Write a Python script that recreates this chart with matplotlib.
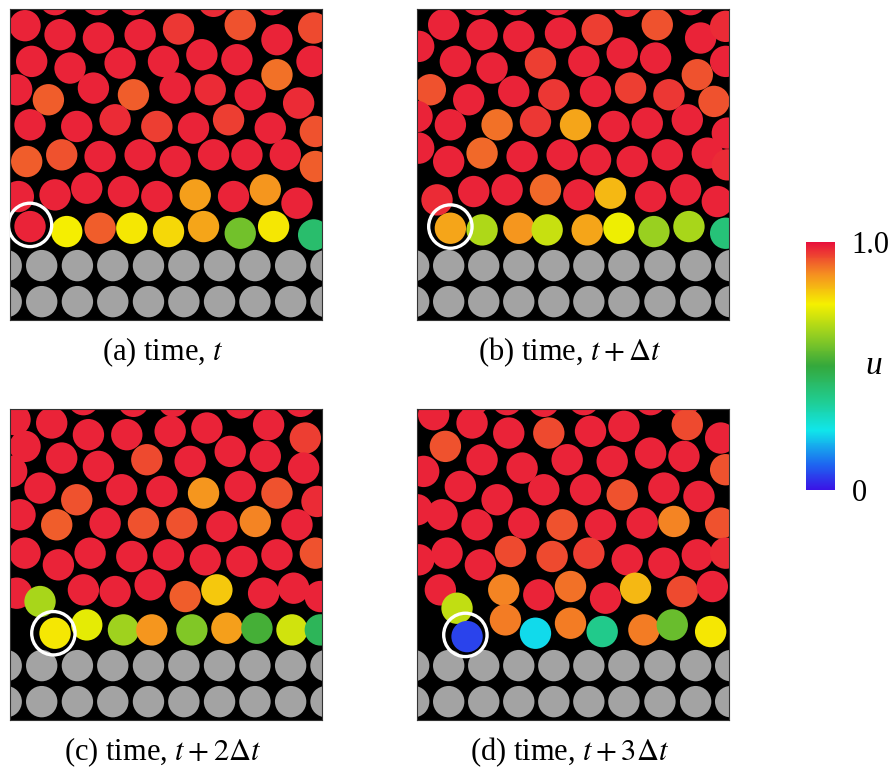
import matplotlib
matplotlib.use("Agg")
import matplotlib.pyplot as plt
from matplotlib.patches import Circle
from matplotlib.collections import PatchCollection
from matplotlib.colors import LinearSegmentedColormap, Normalize
import matplotlib.cm as cm

plt.rcParams['font.family'] = ['Liberation Serif', 'DejaVu Serif']
plt.rcParams['mathtext.fontset'] = 'stix'

# ---------------- data (panel pixel units, y downward) ----------------
labels = [r"(a) time, $t$", r"(b) time, $t + \Delta t$",
          r"(c) time, $t + 2\Delta t$", r"(d) time, $t + 3\Delta t$"]

# panel (a)
a_x = [165, 290, 400, 640, 815,
       75, 180, 295, 420, 535, 720, 940, 830,
       95, 210, 360, 490, 605, 710, 830, 935,
       50, 145, 280, 400, 525, 630, 750, 895,
       90, 230, 345, 470, 580, 685, 810, 945,
       80, 185, 300, 420, 525, 640, 740, 855, 945,
       55, 165, 260, 370, 470, 585, 700, 795, 890,
       90, 200, 300, 395, 505, 610, 720, 820, 940]
a_y = [0, 0, 0, 5, 0,
       78, 105, 115, 105, 88, 75, 85, 120,
       185, 205, 190, 185, 165, 180, 225, 185,
       270, 300, 265, 285, 265, 270, 285, 310,
       375, 380, 360, 380, 385, 360, 385, 395,
       485, 465, 470, 465, 485, 465, 465, 465, 500,
       590, 585, 565, 575, 590, 585, 590, 570, 610,
       680, 695, 685, 685, 695, 680, 700, 680, 705]
a_u = [0.98, 0.98, 0.98, 0.97, 0.98,
       0.98, 0.98, 0.98, 0.98, 0.96, 0.93, 0.94, 0.98,
       0.98, 0.98, 0.98, 0.98, 0.98, 0.98, 0.90, 0.98,
       0.98, 0.92, 0.98, 0.92, 0.98, 0.97, 0.98, 0.97,
       0.98, 0.98, 0.97, 0.95, 0.98, 0.95, 0.98, 0.93,
       0.92, 0.93, 0.98, 0.98, 0.98, 0.98, 0.98, 0.98, 0.92,
       0.98, 0.98, 0.98, 0.98, 0.98, 0.85, 0.98, 0.86, 0.98,
       0.98, 0.75, 0.92, 0.76, 0.78, 0.84, 0.58, 0.76, 0.42]

# panel (b)
b_x = [200, 315, 440, 650, 840,
       100, 215, 325, 450, 560, 740, 870, 945, 25,
       135, 245, 390, 520, 635, 735, 860, 945,
       60, 175, 310, 430, 555, 660, 775, 910,
       20, 120, 260, 375, 495, 610, 710, 830, 950,
       25, 115, 215, 335, 455, 555, 665, 770, 890, 950,
       80, 190, 290, 405, 505, 600, 720, 825, 920,
       120, 215, 325, 410, 530, 625, 730, 835, 945]
b_y = [0, 0, 0, 5, 0,
       75, 105, 110, 100, 90, 75, 115, 80, 140,
       185, 205, 190, 185, 160, 175, 225, 185,
       270, 300, 275, 285, 275, 265, 285, 305,
       350, 375, 375, 365, 375, 380, 370, 360, 400,
       445, 485, 460, 470, 465, 480, 485, 465, 460, 495,
       600, 575, 570, 570, 585, 580, 590, 570, 605,
       685, 690, 685, 690, 690, 685, 695, 680, 700]
b_u = [0.98, 0.98, 0.98, 0.97, 0.98,
       0.98, 0.98, 0.98, 0.98, 0.95, 0.93, 0.98, 0.97, 0.98,
       0.98, 0.98, 0.95, 0.98, 0.98, 0.98, 0.93, 0.98,
       0.93, 0.98, 0.98, 0.96, 0.98, 0.95, 0.96, 0.93,
       0.98, 0.98, 0.90, 0.96, 0.84, 0.98, 0.98, 0.98, 0.98,
       0.98, 0.98, 0.91, 0.98, 0.98, 0.98, 0.98, 0.98, 0.98, 0.97,
       0.97, 0.98, 0.98, 0.91, 0.98, 0.82, 0.98, 0.98, 0.98,
       0.84, 0.66, 0.86, 0.69, 0.84, 0.74, 0.63, 0.65, 0.40]

# panel (c)
c_x = [250, 400, 520, 720, 900,
       45, 155, 265, 380, 510, 620, 805, 915,
       75, 185, 295, 440, 570, 690, 795, 910, 35,
       120, 230, 365, 485, 610, 720, 830, 950,
       60, 170, 315, 430, 545, 665, 765, 890,
       75, 175, 270, 395, 505, 615, 725, 830, 945,
       50, 120, 250, 345, 450, 555, 650, 790, 880, 960,
       165, 260, 370, 455, 575, 680, 770, 875, 960]
c_y = [0, 5, 5, 10, 5,
       60, 70, 105, 105, 95, 85, 75, 115,
       140, 175, 200, 180, 185, 155, 170, 205, 215,
       265, 300, 270, 275, 280, 260, 280, 305,
       345, 375, 370, 370, 370, 380, 365, 375,
       460, 495, 460, 470, 465, 480, 485, 465, 460,
       580, 605, 570, 575, 555, 590, 570, 580, 565, 590,
       700, 675, 690, 690, 690, 685, 685, 690, 690]
c_u = [0.98, 0.98, 0.98, 0.98, 0.98,
       0.98, 0.98, 0.98, 0.98, 0.98, 0.98, 0.98, 0.95,
       0.98, 0.98, 0.98, 0.94, 0.98, 0.98, 0.98, 0.98, 0.98,
       0.98, 0.93, 0.98, 0.98, 0.86, 0.98, 0.93, 0.97,
       0.98, 0.92, 0.98, 0.93, 0.93, 0.98, 0.88, 0.98,
       0.98, 0.98, 0.98, 0.98, 0.98, 0.98, 0.98, 0.98, 0.93,
       0.98, 0.65, 0.98, 0.98, 0.98, 0.92, 0.80, 0.98, 0.98, 0.98,
       0.76, 0.73, 0.64, 0.86, 0.60, 0.85, 0.52, 0.70, 0.45]

# panel (d)
d_x = [190, 290, 400, 520, 720, 820,
       70, 185, 295, 415, 540, 640, 830, 930,
       105, 40, 215, 335, 470, 605, 720, 820, 945,
       150, 260, 400, 525, 635, 760, 865, 20,
       95, 200, 340, 455, 570, 695, 790, 930,
       25, 110, 210, 300, 425, 535, 650, 760, 860, 945,
       90, 280, 385, 480, 585, 675, 815, 905,
       140, 285, 375, 480, 575, 700, 785, 900, 170]
d_y = [0, 0, 5, 0, 0, 5,
       45, 70, 100, 100, 95, 80, 75, 115,
       140, 215, 180, 205, 180, 185, 160, 170, 210,
       260, 300, 270, 270, 285, 265, 290, 330,
       345, 375, 370, 375, 375, 370, 365, 370,
       480, 460, 495, 455, 470, 460, 480, 490, 465, 460,
       570, 570, 585, 560, 595, 565, 575, 560,
       625, 660, 700, 670, 695, 690, 675, 695, 710]
d_u = [0.98, 0.98, 0.98, 0.98, 0.98, 0.98,
       0.98, 0.98, 0.98, 0.94, 0.98, 0.98, 0.94, 0.98,
       0.93, 0.98, 0.98, 0.98, 0.98, 0.98, 0.98, 0.98, 0.93,
       0.98, 0.98, 0.98, 0.98, 0.93, 0.98, 0.98, 0.98,
       0.98, 0.98, 0.98, 0.93, 0.98, 0.98, 0.88, 0.93,
       0.98, 0.98, 0.98, 0.94, 0.94, 0.95, 0.98, 0.98, 0.98, 0.97,
       0.98, 0.88, 0.98, 0.90, 0.98, 0.82, 0.94, 0.98,
       0.68, 0.89, 0.23, 0.89, 0.37, 0.89, 0.57, 0.76, 0.06]

# fixed wall particles (grey), two rows
wall_x_ac = [18.6, 125, 232, 338, 445, 551, 658, 764, 871, 977]
wall_x_bd = [10, 115, 220, 325, 430, 535, 640, 748, 855, 960]
wall_rows_y = [797, 905]

# highlighted particle (white ring) per panel
ring_x = [90, 120, 160, 165]
ring_y = [675, 680, 700, 705]

panel_x0 = [30, 20, 30, 20]
panel_y0 = [28, 28, 28, 28]
panel_w, panel_h = 935, 932
radius = 47
ring_r = 65

# ---------------- colormap ----------------
cmap = LinearSegmentedColormap.from_list("u_map", [
    (0.00, "#3a14e6"), (0.10, "#1e64f0"), (0.24, "#10e6ea"),
    (0.36, "#20cc90"), (0.50, "#34a83c"), (0.63, "#98d020"),
    (0.75, "#f5f000"), (0.87, "#f59020"), (1.00, "#e8103c")])
norm = Normalize(0, 1)

fig = plt.figure(figsize=(8.9, 7.69), dpi=100)
fig.patch.set_facecolor("white")

W, H = 890, 769
boxes = [(10, 9), (417, 9), (10, 409), (417, 409)]
pw, ph = 312, 311

panels = [(a_x, a_y, a_u), (b_x, b_y, b_u), (c_x, c_y, c_u), (d_x, d_y, d_u)]
walls = [wall_x_ac, wall_x_bd, wall_x_ac, wall_x_bd]

for i, (px, py, pu) in enumerate(panels):
    lx, ty = boxes[i]
    ax = fig.add_axes([lx / W, 1 - (ty + ph) / H, pw / W, ph / H])
    ax.set_facecolor("black")
    x0, y0 = panel_x0[i], panel_y0[i]
    ax.set_xlim(x0, x0 + panel_w)
    ax.set_ylim(y0 + panel_h, y0)
    ax.set_xticks([])
    ax.set_yticks([])
    for s in ax.spines.values():
        s.set_color("#333333")
        s.set_linewidth(0.8)

    # wall particles
    wall = [Circle((wx, wy), radius) for wy in wall_rows_y for wx in walls[i]]
    ax.add_collection(PatchCollection(wall, facecolor="#a3a3a3",
                                      edgecolor="none"))
    # free particles coloured by u
    circ = [Circle((x, y), radius) for x, y in zip(px, py)]
    pc = PatchCollection(circ, cmap=cmap, norm=norm, edgecolor="none")
    pc.set_array(pu)
    ax.add_collection(pc)
    # ring
    ax.add_patch(Circle((ring_x[i], ring_y[i]), ring_r, facecolor="none",
                        edgecolor="white", linewidth=2.4, zorder=5))

    fig.text((lx + pw / 2 - 3) / W, 1 - (ty + ph + 32) / H, labels[i],
             ha="center", va="center", fontsize=22)

# colorbar
cax = fig.add_axes([806 / W, 1 - 490 / H, 29 / W, 248 / H])
sm = cm.ScalarMappable(norm=norm, cmap=cmap)
cb = fig.colorbar(sm, cax=cax, ticks=[0, 1.0])
cb.ax.set_yticklabels(["0", "1.0"], fontsize=22)
cb.ax.tick_params(length=0, pad=12)
cb.outline.set_visible(False)
cb.ax.text(2.35, 0.5, "u", transform=cb.ax.transAxes, fontsize=24,
           style="italic", ha="center", va="center")

fig.savefig("out.png", dpi=100, facecolor="white")
